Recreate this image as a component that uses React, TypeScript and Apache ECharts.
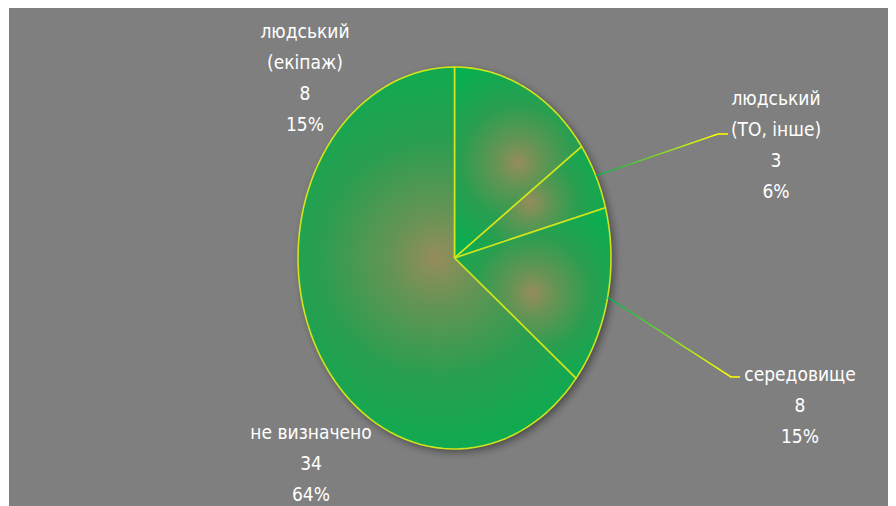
import React, { useEffect, useRef } from "react";
import * as echarts from "echarts";

const categories = ["людський\n(екіпаж)", "людський\n(ТО, інше)", "середовище", "не визначено"];
const counts = [8, 3, 8, 34];

const total = counts.reduce((a, b) => a + b, 0);
const cumulative: number[][] = [];
{
  let acc = 0;
  counts.forEach((v) => {
    cumulative.push([acc, acc + v, v]);
    acc += v;
  });
}

// layout (chart pixel coords)
const CX = 445.5;
const CY = 251;
const RX = 156.5;
const RY = 191;
const LABEL_POS = [
  { x: 296, y: 8, line: null },
  { x: 767, y: 75, line: [[709, 127], [719, 127]] },
  { x: 791, y: 351, line: [[722, 370], [731, 370]] },
  { x: 302, y: 409, line: null },
];

export default function App() {
  const ref = useRef<HTMLDivElement>(null);
  useEffect(() => {
    if (!ref.current) return;
    const chart = echarts.init(ref.current, null, { renderer: "svg" });
    const option: any = {
      animation: false,
      backgroundColor: "#7f7f7f",
      graphic: [
        {
          type: "ellipse",
          z: 0,
          shape: { cx: CX, cy: CY, rx: RX, ry: RY },
          style: {
            fill: "#0fa850",
            shadowBlur: 8,
            shadowOffsetX: 3,
            shadowOffsetY: 3,
            shadowColor: "rgba(0,0,0,0.45)",
          },
        },
      ],
      series: [
        {
          type: "custom",
          coordinateSystem: "none",
          z: 2,
          data: cumulative,
          renderItem: (params: any, api: any) => {
            const i = params.dataIndex;
            const s = api.value(0);
            const e = api.value(1);
            const v = api.value(2);
            const a0 = (s / total) * Math.PI * 2;
            const a1 = (e / total) * Math.PI * 2;
            const N = 80;
            const pts: number[][] = [[CX, CY]];
            for (let k = 0; k <= N; k++) {
              const a = a0 + ((a1 - a0) * k) / N;
              pts.push([CX + RX * Math.sin(a), CY - RY * Math.cos(a)]);
            }
            let minX = Infinity, maxX = -Infinity, minY = Infinity, maxY = -Infinity;
            pts.forEach(([x, y]) => {
              minX = Math.min(minX, x); maxX = Math.max(maxX, x);
              minY = Math.min(minY, y); maxY = Math.max(maxY, y);
            });
            const gx = (minX + maxX) / 2;
            const gy = (minY + maxY) / 2;
            const gr = Math.sqrt((maxX - minX) ** 2 + (maxY - minY) ** 2) / 2;
            const fill = new echarts.graphic.RadialGradient(gx, gy, gr, [
              { offset: 0, color: "rgb(150,140,92)" },
              { offset: 0.2, color: "rgb(100,148,84)" },
              { offset: 0.5, color: "rgb(42,158,80)" },
              { offset: 0.8, color: "rgb(16,170,80)" },
              { offset: 1, color: "rgb(0,178,80)" },
            ], true);
            const children: any[] = [
              {
                type: "polygon",
                shape: { points: pts },
                style: { fill, stroke: "#cfe41c", lineWidth: 1.6, lineJoin: "round" },
              },
            ];
            const lp = LABEL_POS[i];
            if (lp.line) {
              const am = (a0 + a1) / 2;
              const sx = CX + RX * Math.sin(am);
              const sy = CY - RY * Math.cos(am);
              const [p1, p2] = lp.line;
              children.push({
                type: "polyline",
                shape: { points: [[sx, sy], p1, p2] },
                style: {
                  fill: null,
                  lineWidth: 1.5,
                  stroke: new echarts.graphic.LinearGradient(sx, sy, p1[0], p1[1], [
                    { offset: 0, color: "#00b050" },
                    { offset: 1, color: "#ffff00" },
                  ], true),
                },
              });
            }
            const pct = Math.round((v / total) * 100);
            children.push({
              type: "text",
              x: lp.x,
              y: lp.y,
              style: {
                text: `${categories[i]}\n${v}\n${pct}%`,
                fill: "#ffffff",
                fontFamily: "'Liberation Sans Narrow', 'DejaVu Sans Condensed', Lato, sans-serif",
                fontSize: 19,
                lineHeight: 31,
                align: "center",
                verticalAlign: "top",
              },
            });
            return { type: "group", children };
          },
        },
      ],
    };
    chart.setOption(option);
    return () => chart.dispose();
  }, []);
  return (
    <div
      ref={ref}
      style={{ width: 887, height: 499, marginLeft: 1, marginTop: -1 }}
    />
  );
}
